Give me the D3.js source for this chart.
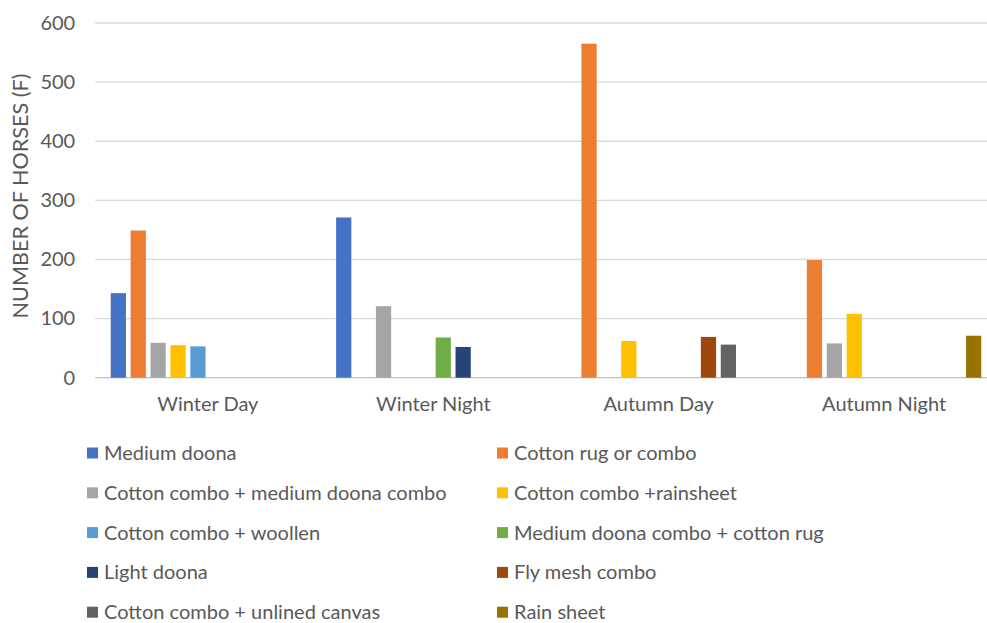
<!DOCTYPE html>
<html>
<head>
<meta charset="utf-8">
<script src="https://cdnjs.cloudflare.com/ajax/libs/d3/7.8.5/d3.min.js"></script>
<style>
  html, body { margin: 0; padding: 0; background: #fff; }
  svg { display: block; }
  text { font-family: Lato, "Open Sans", sans-serif; fill: #595959; }
</style>
</head>
<body>
<svg id="chart" width="987" height="623"></svg>
<script>
// Horse rugging choices by season and time of day
const categories = ["Winter Day", "Winter Night", "Autumn Day", "Autumn Night"];
const seriesNames = [
  "Medium doona",
  "Cotton rug or combo",
  "Cotton combo + medium doona combo",
  "Cotton combo +rainsheet",
  "Cotton combo + woollen",
  "Medium doona combo + cotton rug",
  "Light doona",
  "Fly mesh combo",
  "Cotton combo + unlined canvas",
  "Rain sheet"
];
const seriesColors = ["#4472C4", "#ED7D31", "#A5A5A5", "#FFC000", "#5B9BD5",
                      "#70AD47", "#264478", "#9E480E", "#636363", "#997300"];
// values[series][category]; null = no bar
const medDoona      = [143, 271, null, null];
const cottonRug     = [249, null, 565, 199];
const cottonMedDoona= [59, 121, null, 58];
const cottonRain    = [55, null, 62, 108];
const cottonWool    = [53, null, null, null];
const medDoonaCotton= [null, 68, null, null];
const lightDoona    = [null, 52, null, null];
const flyMesh       = [null, null, 69, null];
const cottonCanvas  = [null, null, 56, null];
const rainSheet     = [null, null, null, 71];
const seriesValues = [medDoona, cottonRug, cottonMedDoona, cottonRain, cottonWool,
                      medDoonaCotton, lightDoona, flyMesh, cottonCanvas, rainSheet];
const yTicks = [0, 100, 200, 300, 400, 500, 600];
const yTitle = "NUMBER OF HORSES (F)";

const FONT = 'Lato, "Open Sans", sans-serif';
const svg = d3.select("#chart");
const plot = { left: 95.2, right: 996.8, top: 23, bottom: 377.7 };

const x0 = d3.scaleBand().domain(categories).range([plot.left, plot.right]).paddingInner(0).paddingOuter(0);
const x1 = d3.scaleBand().domain(d3.range(seriesNames.length))
  .range([0, x0.bandwidth()]).paddingInner(0.235).paddingOuter(0.78);
const y = d3.scaleLinear().domain([0, 600]).range([plot.bottom, plot.top]);

// gridlines
svg.append("g").selectAll("line").data(yTicks).join("line")
  .attr("x1", plot.left).attr("x2", plot.right)
  .attr("y1", d => y(d)).attr("y2", d => y(d))
  .attr("stroke", d => d === 0 ? "#bfbfbf" : "#d9d9d9").attr("stroke-width", 1.3);

// y axis labels
const yAxis = d3.axisLeft(y).tickValues(yTicks).tickSize(0).tickPadding(0);
const gy = svg.append("g").attr("transform", `translate(${plot.left - 20},0)`).call(yAxis);
gy.select(".domain").remove();
gy.selectAll("text").style("font-size", "20px").style("fill", "#595959").style("font-family", FONT);

// y axis title, sized so that it runs alongside the 100–550 span of the axis
const title = svg.append("text")
  .attr("transform", `translate(28,196) rotate(-90)`)
  .attr("text-anchor", "middle").style("font-size", "20px").text(yTitle);
const titleLen = title.node().getComputedTextLength();
title.style("font-size", (20 * 245 / titleLen).toFixed(2) + "px");

// x axis labels
const xAxis = d3.axisBottom(x0).tickSize(0).tickPadding(0);
const gx = svg.append("g").attr("transform", `translate(0,${plot.bottom + 19})`).call(xAxis);
gx.select(".domain").remove();
gx.selectAll("text").style("font-size", "20px").style("fill", "#595959").style("font-family", FONT);

// bars
const barData = [];
seriesValues.forEach((vals, s) => vals.forEach((v, c) => {
  if (v != null) barData.push({ s, c: categories[c], v });
}));
svg.append("g").selectAll("rect").data(barData).join("rect")
  .attr("x", d => x0(d.c) + x1(d.s))
  .attr("width", x1.bandwidth())
  .attr("y", d => y(d.v))
  .attr("height", d => y(0) - y(d.v))
  .attr("fill", d => seriesColors[d.s]);

// legend, two columns
const legendCols = [87, 497];
const legendRow0 = 453, legendStep = 39.8;
const lg = svg.append("g").selectAll("g").data(seriesNames).join("g")
  .attr("transform", (d, i) => `translate(${legendCols[i % 2]},${legendRow0 + Math.floor(i / 2) * legendStep})`);
lg.append("rect").attr("x", 0).attr("y", -5.5).attr("width", 11).attr("height", 11)
  .attr("fill", (d, i) => seriesColors[i]);
lg.append("text").attr("x", 17).attr("y", 0).attr("dy", "0.35em")
  .style("font-size", "20px").text(d => d);
</script>
</body>
</html>
